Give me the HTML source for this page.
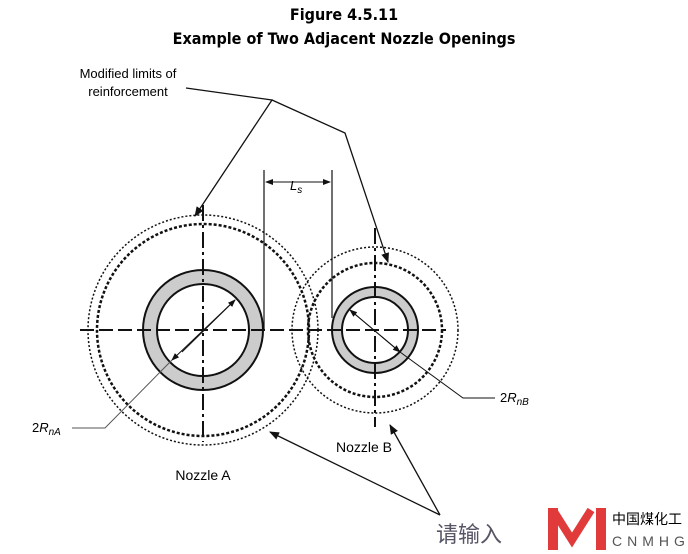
<!DOCTYPE html><html><head><style>body{margin:0;background:#fff}svg{display:block}text{font-family:"Liberation Sans",sans-serif}</style></head><body>
<svg width="688" height="554" viewBox="0 0 688 554" xmlns="http://www.w3.org/2000/svg">
<defs><marker id="a" markerWidth="10" markerHeight="8" refX="9" refY="4" orient="auto" markerUnits="userSpaceOnUse"><path d="M0,0L10,4L0,8z" fill="#111"/></marker>
<marker id="s" markerWidth="8" markerHeight="6" refX="7" refY="3" orient="auto" markerUnits="userSpaceOnUse"><path d="M0,0L8,3L0,6z" fill="#111"/></marker></defs>
<text x="344" y="20" font-size="16" font-weight="bold" text-anchor="middle" style="font-family:'DejaVu Sans Condensed','Liberation Sans Narrow',sans-serif">Figure 4.5.11</text>
<text x="344" y="44" font-size="16" font-weight="bold" text-anchor="middle" style="font-family:'DejaVu Sans Condensed','Liberation Sans Narrow',sans-serif">Example of Two Adjacent Nozzle Openings</text>
<text x="128" y="78" font-size="13" text-anchor="middle">Modified limits of</text>
<text x="128" y="96" font-size="13" text-anchor="middle">reinforcement</text>
<g fill="none" stroke="#111">
<circle cx="203" cy="330" r="53" stroke="#ccc" stroke-width="14"/>
<circle cx="203" cy="330" r="60" stroke-width="2"/>
<circle cx="203" cy="330" r="46" stroke-width="2"/>
<circle cx="375" cy="330" r="38" stroke="#ccc" stroke-width="10"/>
<circle cx="375" cy="330" r="43" stroke-width="2"/>
<circle cx="375" cy="330" r="33" stroke-width="2"/>
<circle cx="203" cy="330" r="115" stroke-width="1.5" stroke-dasharray="2 2"/>
<circle cx="203" cy="330" r="106" stroke-width="2.5" stroke-dasharray="3 2"/>
<circle cx="375" cy="330" r="83" stroke-width="1.5" stroke-dasharray="2 2"/>
<circle cx="375" cy="330" r="67" stroke-width="2.5" stroke-dasharray="3 2"/>
<path d="M80 330H446" stroke-width="2" stroke-dasharray="14 5"/>
<path d="M203 205V442M375 228V427" stroke-width="2" stroke-dasharray="16 4 3 4"/>
<path d="M264 170V330M332 170V318" stroke-width="1.2"/>
<path d="M298 182H266" stroke-width="1" marker-end="url(#s)"/>
<path d="M298 182H330" stroke-width="1" marker-end="url(#s)"/>
<path d="M186 88L272 100L195 216" stroke-width="1.3" marker-end="url(#a)"/>
<path d="M272 100L345 133L388 262" stroke-width="1.3" marker-end="url(#a)"/>
<path d="M440 515L270 432" stroke-width="1.3" marker-end="url(#a)"/>
<path d="M440 515L390 425" stroke-width="1.3" marker-end="url(#a)"/>
<path d="M182 352L235 300" stroke-width="1" marker-end="url(#s)"/>
<path d="M235 300L172 360" stroke-width="1" marker-end="url(#s)"/>
<path d="M72 428H105L172 360" stroke="#555" stroke-width="1"/>
<path d="M400 352L350 310" stroke-width="1" marker-end="url(#s)"/>
<path d="M350 310L400 352" stroke-width="1" marker-end="url(#s)"/>
<path d="M400 352L463 398H495" stroke-width="1"/>
</g>
<text x="32" y="432" font-size="13">2<tspan font-style="italic">R</tspan><tspan font-style="italic" font-size="10" dy="3">nA</tspan></text>
<text x="500" y="402" font-size="13">2<tspan font-style="italic">R</tspan><tspan font-style="italic" font-size="10" dy="3">nB</tspan></text>
<text x="290" y="190" font-size="13" font-style="italic">L<tspan font-size="10" dy="3">s</tspan></text>
<text x="203" y="480" font-size="14" text-anchor="middle">Nozzle A</text>
<text x="364" y="452" font-size="14" text-anchor="middle">Nozzle B</text>
<text x="436" y="542" font-size="22" fill="#556" font-family="Noto Sans CJK SC,sans-serif">请输入</text>
<rect x="548" y="508" width="10" height="42" fill="#e03a3a"/><rect x="596" y="508" width="10" height="42" fill="#e03a3a"/><path d="M553 510L572 540L591 510" stroke="#e03a3a" stroke-width="8" fill="none"/>
<text x="612" y="524" font-size="14" font-family="Noto Sans CJK SC,sans-serif">中国煤化工</text>
<text x="612" y="546" font-size="14" letter-spacing="5" fill="#555">CNMHG</text>
</svg></body></html>
